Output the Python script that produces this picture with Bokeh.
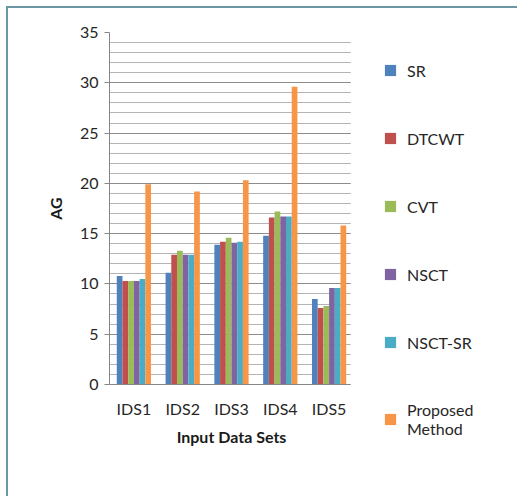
from bokeh.plotting import figure
from bokeh.models import ColumnDataSource, Legend, LegendItem, SingleIntervalTicker, Range1d
from bokeh.transform import dodge
from bokeh.embed import file_html
from bokeh.resources import INLINE

# Average gradient (AG) per input data set and fusion method
datasets = ["IDS1", "IDS2", "IDS3", "IDS4", "IDS5"]
methods = ["SR", "DTCWT", "CVT", "NSCT", "NSCT-SR", "Proposed\nMethod"]
sr = [10.8, 11.1, 13.9, 14.8, 8.5]
dtcwt = [10.3, 12.9, 14.2, 16.6, 7.6]
cvt = [10.3, 13.3, 14.6, 17.2, 7.8]
nsct = [10.3, 12.9, 14.1, 16.7, 9.6]
nsct_sr = [10.5, 12.9, 14.2, 16.7, 9.6]
proposed = [19.9, 19.2, 20.3, 29.6, 15.8]
colors = ["#4F81BD", "#C0504D", "#9BBB59", "#8064A2", "#4BACC6", "#F79646"]

series = [sr, dtcwt, cvt, nsct, nsct_sr, proposed]
keys = ["s0", "s1", "s2", "s3", "s4", "s5"]
data = {"ds": datasets}
for k, s in zip(keys, series):
    data[k] = s
source = ColumnDataSource(data)

FONT = "Lato"
EDGE = "2px solid #6a97a3"
H = 490

p = figure(
    x_range=datasets,
    y_range=Range1d(0, 35),
    width=347,
    height=H,
    output_backend="svg",
    toolbar_location=None,
    min_border_left=101,
    min_border_top=24,
    min_border_bottom=114,
    min_border_right=2,
    styles={"position": "absolute", "left": "6px", "top": "6px",
            "border-top": EDGE, "border-left": EDGE},
)
p.outline_line_color = None
p.background_fill_color = "white"
p.border_fill_color = "white"

bar_w = 0.117
for i, (k, c) in enumerate(zip(keys, colors)):
    off = (i - 2.5) * bar_w
    p.vbar(x=dodge("ds", off, range=p.x_range), top=k, width=bar_w,
           source=source, fill_color=c, line_color=None)

# axes
p.yaxis.ticker = SingleIntervalTicker(interval=5, num_minor_ticks=5)
p.yaxis.axis_label = "AG"
p.xaxis.axis_label = "Input Data Sets"
for ax in (p.xaxis, p.yaxis):
    ax.axis_line_color = "#868686"
    ax.major_label_text_font = FONT
    ax.major_label_text_font_size = "16px"
    ax.major_label_text_color = "#262626"
    ax.axis_label_text_font = FONT
    ax.axis_label_text_font_size = "16px"
    ax.axis_label_text_font_style = "bold"
    ax.axis_label_text_color = "#1a1a1a"
    ax.minor_tick_line_color = None
p.yaxis.major_tick_line_color = "#868686"
p.yaxis.major_tick_out = 5
p.yaxis.major_tick_in = 0
p.yaxis.major_label_standoff = 6
p.yaxis.axis_label_standoff = 12
p.xaxis.major_tick_line_color = None
p.xaxis.major_label_standoff = 8
p.xaxis.axis_label_standoff = 6

p.xgrid.grid_line_color = None
p.ygrid.grid_line_color = "#8c8c8c"
p.ygrid.minor_grid_line_color = "#b4b4b4"

# legend panel to the right of the chart
q = figure(
    x_range=Range1d(0, 1),
    y_range=Range1d(0, 1),
    width=167,
    height=H,
    output_backend="svg",
    toolbar_location=None,
    min_border_left=33,
    min_border_top=52,
    min_border_bottom=0,
    min_border_right=0,
    styles={"position": "absolute", "left": "350px", "top": "6px",
            "border-top": EDGE},
)
q.axis.visible = False
q.grid.visible = False
q.outline_line_color = None
q.border_fill_color = "white"
q.background_fill_color = "white"

items = []
for c, m in zip(colors, methods):
    r = q.vbar(x=[-10], top=[-10], width=0.1, fill_color=c, line_color=None)
    items.append(LegendItem(label=m, renderers=[r]))

legend = Legend(items=items, location="top_left")
legend.border_line_color = None
legend.background_fill_alpha = 0
legend.margin = 0
legend.padding = 0
legend.spacing = 48
legend.glyph_width = 14
legend.glyph_height = 14
legend.label_height = 20
legend.label_standoff = 10
legend.label_text_font = FONT
legend.label_text_font_size = "16px"
legend.label_text_line_height = 1.8
legend.label_text_color = "#262626"
q.add_layout(legend, "center")

open("out.html", "w").write(file_html([p, q], INLINE))
